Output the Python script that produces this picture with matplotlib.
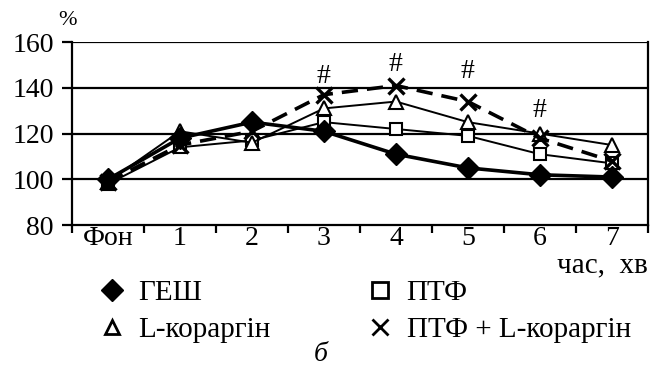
import matplotlib
matplotlib.use("Agg")
import numpy as np
import matplotlib.pyplot as plt
from matplotlib.lines import Line2D

plt.rcParams['font.family'] = ['Liberation Serif', 'DejaVu Serif']

# data
categories = ['Фон', '1', '2', '3', '4', '5', '6', '7']
gesh = [100, 118, 125, 121, 111, 105, 102, 101]
ptf = [98, 114, 117, 125, 122, 119, 111, 107]
lkor = [99, 121, 116, 131, 134, 125, 120, 115]
ptf_lkor = [99, 115, 121, 137, 141, 134, 118, 108]
hash_idx = [3, 4, 5, 6]
hash_y = [145, 150, 147, 130]

x = np.arange(len(categories))

fig = plt.figure(figsize=(6.61, 3.69), dpi=100)
ax = fig.add_axes([0.109, 0.39, 0.871, 0.496])

for yv in [100, 120, 140, 160]:
    ax.axhline(yv, color='black', lw=1.6, zorder=1)

ax.plot(x, ptf, color='black', lw=1.4, marker='s', ms=9, mfc='white',
        mec='black', mew=1.5, zorder=3)
ax.plot(x, lkor, color='black', lw=1.4, marker='^', ms=10, mfc='white',
        mec='black', mew=1.5, zorder=3)
ax.plot(x, ptf_lkor, color='black', lw=2.6, ls=(0, (4.5, 2.5)), marker='x', ms=12,
        mew=2.4, zorder=4)
ax.plot(x, gesh, color='black', lw=2.6, marker='D', ms=11, mfc='black',
        mec='black', zorder=5)

# significance marks
for i, hy in zip(hash_idx, hash_y):
    ax.text(x[i], hy, '#', ha='center', va='center', fontsize=20)

ax.set_xlim(-0.5, 7.5)
ax.set_ylim(80, 160)
ax.set_yticks([80, 100, 120, 140, 160])
ax.tick_params(axis='y', labelsize=20, length=7, width=1.6, direction='out', pad=6)
ax.set_xticks(np.arange(-0.5, 8, 1.0))
ax.set_xticklabels([])
ax.tick_params(axis='x', which='major', length=6, width=1.6, direction='out')
ax.set_xticks(x, minor=True)
ax.set_xticklabels(categories, minor=True, fontsize=20)
ax.tick_params(axis='x', which='minor', length=0, pad=1)

for s in ['left', 'right', 'bottom']:
    ax.spines[s].set_linewidth(1.6)
ax.spines['top'].set_visible(False)

fig.text(0.088, 0.945, '%', fontsize=16, ha='left', va='center')
fig.text(0.98, 0.28, 'час,  хв', fontsize=21, ha='right', va='center')
fig.text(0.485, 0.04, 'б', fontsize=20, style='italic', ha='center', va='center')

handles = [
    Line2D([], [], ls='none', marker='D', ms=11, mfc='black', mec='black'),
    Line2D([], [], ls='none', marker='^', ms=10, mfc='white', mec='black', mew=2),
    Line2D([], [], ls='none', marker='s', ms=11, mfc='white', mec='black', mew=2),
    Line2D([], [], ls='none', marker='x', ms=12, mec='black', mew=2),
]
labels = ['ГЕШ', 'L-кораргін', 'ПТФ', 'ПТФ + L-кораргін']
fig.legend(handles, labels, ncol=2, loc='lower left', bbox_to_anchor=(0.13, 0.03),
           frameon=False, fontsize=21, handlelength=0.8, handletextpad=0.5,
           columnspacing=3.36, labelspacing=0.37, borderpad=0)

fig.savefig('out.png', dpi=100)
